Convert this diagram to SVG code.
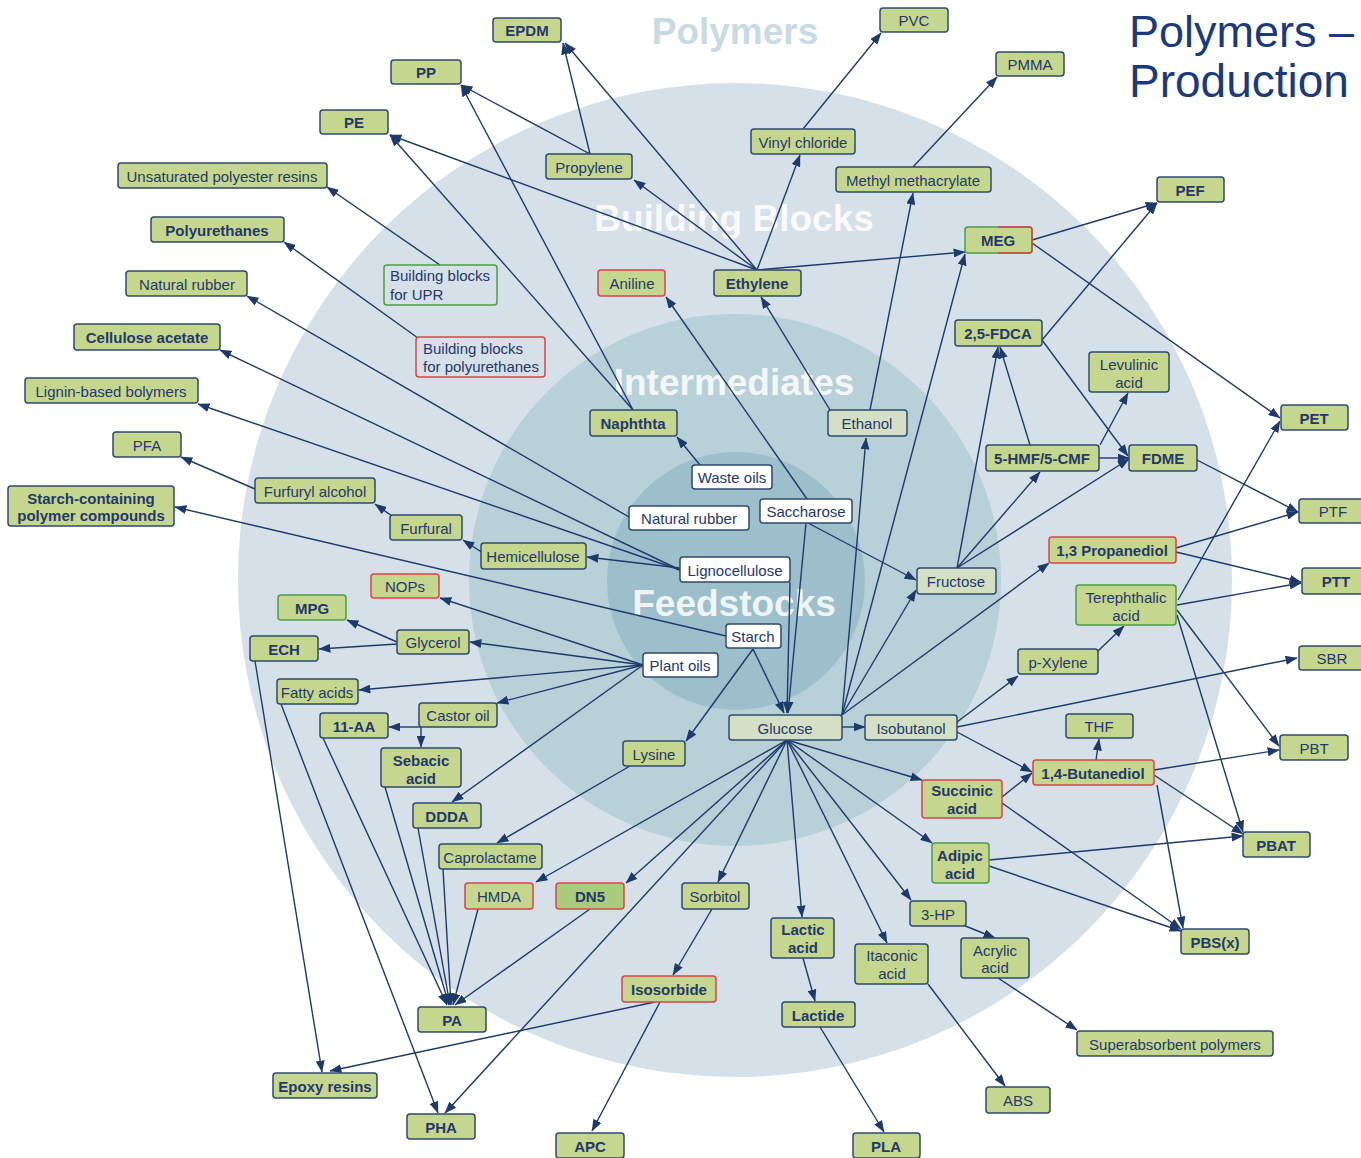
<svg xmlns="http://www.w3.org/2000/svg" width="1361" height="1158" viewBox="0 0 1361 1158">
<defs>
<marker id="ah" viewBox="0 0 10 10" refX="9.5" refY="5" markerWidth="12" markerHeight="9" markerUnits="userSpaceOnUse" orient="auto" preserveAspectRatio="none"><path d="M0,0 L10,5 L0,10 z" fill="#1e3a6b"/></marker>
<style>
.n rect{fill:#c5d78e;stroke:#2f4a6e;stroke-width:1.5}
.n text{font-family:"Liberation Sans",Arial,sans-serif;font-size:15px;fill:#25386a;text-anchor:middle;dominant-baseline:central}
.n.b text{font-weight:bold}
.n.red rect{stroke:#d9434b}
.n.grn rect{stroke:#4c9d45}
.n.w rect{fill:#ffffff}
.n.lt rect{fill:#d3e0c5}
.n.nf rect{fill:none}
.n.nf text{text-anchor:start}
.n.dk rect{fill:#a9cd7c}
.reg{font-family:"Liberation Sans",Arial,sans-serif;font-size:37px;font-weight:bold;text-anchor:middle}
#connectors line,#connectors path{stroke:#1e3a6b;stroke-width:1.4;fill:none;marker-end:url(#ah)}
</style>
</defs>
<rect width="1361" height="1158" fill="#ffffff"/>
<g id="background">
<circle cx="735" cy="580" r="497" fill="#d6e0e8"/>
<circle cx="735" cy="580" r="266" fill="#b8d0d8"/>
<circle cx="736" cy="581" r="129" fill="#9dbfcc"/>
<text class="reg" x="735" y="44" fill="#c9dae3">Polymers</text>
<text class="reg" x="734" y="231" fill="#ffffff" fill-opacity="0.85">Building Blocks</text>
<text class="reg" x="734" y="395" fill="#ffffff" fill-opacity="0.85">Intermediates</text>
<text class="reg" x="734" y="616" fill="#ffffff" fill-opacity="0.85">Feedstocks</text>
</g>
<g id="title" font-family="'Liberation Sans',Arial,sans-serif" font-size="45" fill="#1b3a7c">
<text x="1129" y="47">Polymers –</text>
<text x="1129" y="97" font-size="46">Production</text>
</g>
<g id="connectors">
<line x1="590" y1="154" x2="563" y2="43"/>
<line x1="590" y1="154" x2="461" y2="85"/>
<line x1="757" y1="270" x2="565" y2="43"/>
<line x1="757" y1="270" x2="390" y2="135"/>
<line x1="757" y1="270" x2="634" y2="180"/>
<line x1="757" y1="270" x2="800" y2="155"/>
<line x1="757" y1="270" x2="965" y2="252"/>
<line x1="803" y1="129" x2="881" y2="33"/>
<line x1="913" y1="167" x2="997" y2="77"/>
<line x1="870" y1="410" x2="913" y2="193"/>
<line x1="830" y1="410" x2="761" y2="297"/>
<line x1="633" y1="410" x2="461" y2="85"/>
<line x1="633" y1="410" x2="390" y2="135"/>
<line x1="700" y1="465" x2="677" y2="437"/>
<line x1="807" y1="499" x2="666" y2="297"/>
<line x1="440" y1="265" x2="327" y2="187"/>
<line x1="418" y1="338" x2="284" y2="242"/>
<line x1="629" y1="517" x2="247" y2="296"/>
<line x1="680" y1="570" x2="220" y2="350"/>
<line x1="680" y1="570" x2="198" y2="404"/>
<line x1="680" y1="568" x2="587" y2="557"/>
<line x1="483" y1="553" x2="463" y2="540"/>
<line x1="392" y1="516" x2="375" y2="504"/>
<line x1="255" y1="489" x2="181" y2="457"/>
<line x1="726" y1="636" x2="175" y2="507"/>
<line x1="753" y1="649" x2="784" y2="713"/>
<line x1="753" y1="649" x2="686" y2="741"/>
<line x1="806" y1="523" x2="788" y2="713"/>
<line x1="790" y1="582" x2="787" y2="713"/>
<line x1="808" y1="523" x2="916" y2="580"/>
<line x1="842" y1="715" x2="916" y2="590"/>
<line x1="842" y1="715" x2="866" y2="438"/>
<line x1="842" y1="715" x2="965" y2="254"/>
<line x1="842" y1="715" x2="1049" y2="563"/>
<line x1="842" y1="727" x2="865" y2="727"/>
<line x1="957" y1="568" x2="998" y2="347"/>
<line x1="957" y1="568" x2="1040" y2="472"/>
<line x1="957" y1="568" x2="1129" y2="459"/>
<line x1="1030" y1="445" x2="1000" y2="347"/>
<line x1="1100" y1="445" x2="1128" y2="393"/>
<line x1="1099" y1="458" x2="1129" y2="458"/>
<line x1="1042" y1="340" x2="1157" y2="203"/>
<line x1="1042" y1="340" x2="1128" y2="456"/>
<line x1="1032" y1="240" x2="1157" y2="203"/>
<line x1="1032" y1="243" x2="1280" y2="418"/>
<line x1="1197" y1="460" x2="1298" y2="512"/>
<line x1="1176" y1="548" x2="1298" y2="512"/>
<line x1="1176" y1="552" x2="1301" y2="582"/>
<line x1="1178" y1="600" x2="1280" y2="421"/>
<line x1="1177" y1="605" x2="1301" y2="583"/>
<line x1="1177" y1="610" x2="1279" y2="746"/>
<line x1="1177" y1="615" x2="1243" y2="832"/>
<line x1="1098" y1="651" x2="1124" y2="626"/>
<line x1="957" y1="722" x2="1018" y2="676"/>
<line x1="957" y1="727" x2="1297" y2="658"/>
<line x1="957" y1="732" x2="1032" y2="772"/>
<line x1="1096" y1="760" x2="1099" y2="739"/>
<line x1="1154" y1="770" x2="1279" y2="750"/>
<line x1="1154" y1="775" x2="1243" y2="834"/>
<line x1="1157" y1="785" x2="1183" y2="928"/>
<line x1="1002" y1="797" x2="1032" y2="773"/>
<line x1="1002" y1="803" x2="1181" y2="929"/>
<line x1="989" y1="860" x2="1243" y2="836"/>
<line x1="989" y1="866" x2="1181" y2="931"/>
<line x1="787" y1="740" x2="922" y2="780"/>
<line x1="787" y1="740" x2="932" y2="843"/>
<line x1="787" y1="740" x2="911" y2="900"/>
<line x1="787" y1="740" x2="887" y2="943"/>
<line x1="787" y1="740" x2="802" y2="917"/>
<line x1="787" y1="740" x2="718" y2="882"/>
<line x1="787" y1="740" x2="626" y2="883"/>
<line x1="787" y1="740" x2="536" y2="882"/>
<line x1="787" y1="740" x2="445" y2="1113"/>
<line x1="963" y1="925" x2="995" y2="938"/>
<line x1="998" y1="978" x2="1077" y2="1030"/>
<line x1="928" y1="984" x2="1005" y2="1086"/>
<line x1="803" y1="958" x2="815" y2="1001"/>
<line x1="820" y1="1027" x2="884" y2="1132"/>
<line x1="712" y1="909" x2="673" y2="975"/>
<line x1="660" y1="1002" x2="592" y2="1131"/>
<line x1="655" y1="1002" x2="330" y2="1071"/>
<line x1="255" y1="661" x2="322" y2="1072"/>
<line x1="281" y1="704" x2="438" y2="1113"/>
<line x1="323" y1="738" x2="447" y2="1005"/>
<line x1="385" y1="787" x2="449" y2="1005"/>
<line x1="418" y1="828" x2="450" y2="1005"/>
<line x1="443" y1="869" x2="451" y2="1005"/>
<line x1="478" y1="909" x2="453" y2="1005"/>
<line x1="590" y1="909" x2="455" y2="1005"/>
<line x1="643" y1="665" x2="440" y2="598"/>
<line x1="643" y1="665" x2="470" y2="642"/>
<line x1="643" y1="665" x2="359" y2="690"/>
<line x1="643" y1="665" x2="497" y2="703"/>
<line x1="643" y1="665" x2="452" y2="802"/>
<line x1="397" y1="642" x2="347" y2="620"/>
<line x1="397" y1="644" x2="319" y2="649"/>
<path d="M421,727 H389"/>
<path d="M421,727 V747"/>
<line x1="630" y1="766" x2="497" y2="843"/>
</g>
<g id="nodes">
<g id="n-epdm" class="n b"><rect x="493" y="18" width="68" height="24" rx="3"/><text x="527" y="30">EPDM</text></g>
<g id="n-pp" class="n b"><rect x="391" y="60" width="70" height="24" rx="3"/><text x="426" y="72">PP</text></g>
<g id="n-pe" class="n b"><rect x="320" y="110" width="68" height="24" rx="3"/><text x="354" y="122">PE</text></g>
<g id="n-pvc" class="n"><rect x="880" y="8" width="68" height="24" rx="3"/><text x="914" y="20">PVC</text></g>
<g id="n-pmma" class="n"><rect x="996" y="52" width="68" height="24" rx="3"/><text x="1030" y="64">PMMA</text></g>
<g id="n-upr" class="n"><rect x="118" y="163" width="209" height="25" rx="3"/><text x="222" y="176">Unsaturated polyester resins</text></g>
<g id="n-pu" class="n b"><rect x="151" y="217" width="133" height="25" rx="3"/><text x="217" y="230">Polyurethanes</text></g>
<g id="n-nr-poly" class="n"><rect x="126" y="271" width="121" height="25" rx="3"/><text x="187" y="284">Natural rubber</text></g>
<g id="n-ca" class="n b"><rect x="74" y="324" width="146" height="26" rx="3"/><text x="147" y="337">Cellulose acetate</text></g>
<g id="n-lignin" class="n"><rect x="25" y="378" width="173" height="25" rx="3"/><text x="111" y="391">Lignin-based bolymers</text></g>
<g id="n-pfa" class="n"><rect x="113" y="432" width="68" height="25" rx="3"/><text x="147" y="445">PFA</text></g>
<g id="n-furfurylalc" class="n"><rect x="255" y="478" width="120" height="25" rx="3"/><text x="315" y="491">Furfuryl alcohol</text></g>
<g id="n-furfural" class="n"><rect x="390" y="515" width="72" height="25" rx="3"/><text x="426" y="528">Furfural</text></g>
<g id="n-starchpoly" class="n b"><rect x="8" y="486" width="166" height="40" rx="3"/><text x="91" y="498">Starch-containing</text><text x="91" y="515">polymer compounds</text></g>
<g id="n-bb-upr" class="n grn nf"><rect x="384" y="265" width="113" height="40" rx="3"/><text x="390" y="275">Building blocks</text><text x="390" y="294">for UPR</text></g>
<g id="n-bb-pu" class="n red nf"><rect x="416" y="337" width="129" height="40" rx="3"/><text x="423" y="348">Building blocks</text><text x="423" y="366">for polyurethanes</text></g>
<g id="n-propylene" class="n"><rect x="546" y="154" width="86" height="25" rx="3"/><text x="589" y="167">Propylene</text></g>
<g id="n-vc" class="n"><rect x="751" y="129" width="104" height="25" rx="3"/><text x="803" y="142">Vinyl chloride</text></g>
<g id="n-mma" class="n"><rect x="836" y="167" width="155" height="25" rx="3"/><text x="913" y="180">Methyl methacrylate</text></g>
<g id="n-meg" class="n b grn"><rect x="965" y="227" width="67" height="26" rx="3"/><path d="M998,227 H1029 Q1032,227 1032,230 V250 Q1032,253 1029,253 H998" fill="none" stroke="#d9434b" stroke-width="1.5"/><text x="998" y="240">MEG</text></g>
<g id="n-pef" class="n b"><rect x="1157" y="177" width="67" height="25" rx="3"/><text x="1190" y="190">PEF</text></g>
<g id="n-aniline" class="n red"><rect x="598" y="270" width="67" height="26" rx="3"/><text x="632" y="283">Aniline</text></g>
<g id="n-ethylene" class="n b"><rect x="714" y="270" width="87" height="26" rx="3"/><text x="757" y="283">Ethylene</text></g>
<g id="n-fdca" class="n b"><rect x="955" y="320" width="87" height="26" rx="3"/><text x="998" y="333">2,5-FDCA</text></g>
<g id="n-levulinic" class="n"><rect x="1089" y="352" width="80" height="40" rx="3"/><text x="1129" y="364">Levulinic</text><text x="1129" y="382">acid</text></g>
<g id="n-pet" class="n b"><rect x="1281" y="405" width="67" height="25" rx="3"/><text x="1314" y="418">PET</text></g>
<g id="n-naphtha" class="n b"><rect x="590" y="410" width="87" height="26" rx="3"/><text x="633" y="423">Naphthta</text></g>
<g id="n-ethanol" class="n lt"><rect x="828" y="410" width="79" height="26" rx="3"/><text x="867" y="423">Ethanol</text></g>
<g id="n-hmf" class="n b"><rect x="986" y="445" width="113" height="26" rx="3"/><text x="1042" y="458">5-HMF/5-CMF</text></g>
<g id="n-fdme" class="n b"><rect x="1129" y="445" width="68" height="26" rx="3"/><text x="1163" y="458">FDME</text></g>
<g id="n-wasteoils" class="n w"><rect x="692" y="465" width="80" height="24" rx="3"/><text x="732" y="477">Waste oils</text></g>
<g id="n-saccharose" class="n w"><rect x="760" y="499" width="92" height="24" rx="3"/><text x="806" y="511">Saccharose</text></g>
<g id="n-nr-feed" class="n w"><rect x="629" y="506" width="120" height="24" rx="3"/><text x="689" y="518">Natural rubber</text></g>
<g id="n-ptf" class="n"><rect x="1299" y="499" width="68" height="24" rx="3"/><text x="1333" y="511">PTF</text></g>
<g id="n-pdo" class="n b red"><rect x="1049" y="537" width="127" height="26" rx="3"/><text x="1112" y="550">1,3 Propanediol</text></g>
<g id="n-hemi" class="n"><rect x="481" y="543" width="105" height="26" rx="3"/><text x="533" y="556">Hemicellulose</text></g>
<g id="n-ligno" class="n w"><rect x="680" y="557" width="110" height="25" rx="3"/><text x="735" y="570">Lignocellulose</text></g>
<g id="n-fructose" class="n lt"><rect x="917" y="568" width="79" height="26" rx="3"/><text x="956" y="581">Fructose</text></g>
<g id="n-ptt" class="n b"><rect x="1302" y="568" width="66" height="26" rx="3"/><text x="1336" y="581">PTT</text></g>
<g id="n-nops" class="n red"><rect x="371" y="574" width="68" height="24" rx="3"/><text x="405" y="586">NOPs</text></g>
<g id="n-tpa" class="n grn"><rect x="1076" y="585" width="100" height="40" rx="3"/><text x="1126" y="597">Terephthalic</text><text x="1126" y="615">acid</text></g>
<g id="n-mpg" class="n b grn"><rect x="278" y="595" width="68" height="25" rx="3"/><text x="312" y="608">MPG</text></g>
<g id="n-starch" class="n w"><rect x="726" y="624" width="55" height="24" rx="3"/><text x="753" y="636">Starch</text></g>
<g id="n-glycerol" class="n"><rect x="397" y="630" width="72" height="24" rx="3"/><text x="433" y="642">Glycerol</text></g>
<g id="n-ech" class="n b"><rect x="250" y="636" width="68" height="25" rx="3"/><text x="284" y="649">ECH</text></g>
<g id="n-sbr" class="n"><rect x="1299" y="646" width="68" height="24" rx="3"/><text x="1332" y="658">SBR</text></g>
<g id="n-pxylene" class="n"><rect x="1018" y="649" width="80" height="25" rx="3"/><text x="1058" y="662">p-Xylene</text></g>
<g id="n-plantoils" class="n w"><rect x="643" y="653" width="75" height="24" rx="3"/><text x="680" y="665">Plant oils</text></g>
<g id="n-fatty" class="n"><rect x="277" y="679" width="81" height="25" rx="3"/><text x="317" y="692">Fatty acids</text></g>
<g id="n-castor" class="n"><rect x="419" y="703" width="78" height="24" rx="3"/><text x="458" y="715">Castor oil</text></g>
<g id="n-11aa" class="n b"><rect x="320" y="713" width="68" height="25" rx="3"/><text x="354" y="726">11-AA</text></g>
<g id="n-glucose" class="n lt"><rect x="729" y="715" width="113" height="25" rx="3"/><text x="785" y="728">Glucose</text></g>
<g id="n-isobutanol" class="n lt"><rect x="865" y="715" width="92" height="25" rx="3"/><text x="911" y="728">Isobutanol</text></g>
<g id="n-thf" class="n"><rect x="1066" y="714" width="67" height="24" rx="3"/><text x="1099" y="726">THF</text></g>
<g id="n-pbt" class="n"><rect x="1280" y="735" width="68" height="25" rx="3"/><text x="1314" y="748">PBT</text></g>
<g id="n-lysine" class="n"><rect x="623" y="741" width="62" height="25" rx="3"/><text x="654" y="754">Lysine</text></g>
<g id="n-sebacic" class="n b"><rect x="381" y="748" width="80" height="39" rx="3"/><text x="421" y="760">Sebacic</text><text x="421" y="778">acid</text></g>
<g id="n-bdo" class="n b red"><rect x="1033" y="760" width="121" height="25" rx="3"/><text x="1093" y="773">1,4-Butanediol</text></g>
<g id="n-succinic" class="n b red"><rect x="922" y="780" width="80" height="38" rx="3"/><text x="962" y="790">Succinic</text><text x="962" y="808">acid</text></g>
<g id="n-ddda" class="n b"><rect x="413" y="803" width="68" height="25" rx="3"/><text x="447" y="816">DDDA</text></g>
<g id="n-pbat" class="n b"><rect x="1243" y="832" width="67" height="25" rx="3"/><text x="1276" y="845">PBAT</text></g>
<g id="n-adipic" class="n b grn"><rect x="932" y="843" width="57" height="40" rx="3"/><text x="960" y="855">Adipic</text><text x="960" y="873">acid</text></g>
<g id="n-caprolactame" class="n"><rect x="439" y="844" width="103" height="25" rx="3"/><text x="490" y="857">Caprolactame</text></g>
<g id="n-hmda" class="n red"><rect x="465" y="883" width="68" height="26" rx="3"/><text x="499" y="896">HMDA</text></g>
<g id="n-dn5" class="n b red dk"><rect x="556" y="883" width="68" height="26" rx="3"/><text x="590" y="896">DN5</text></g>
<g id="n-sorbitol" class="n"><rect x="682" y="883" width="67" height="26" rx="3"/><text x="715" y="896">Sorbitol</text></g>
<g id="n-3hp" class="n"><rect x="910" y="901" width="56" height="25" rx="3"/><text x="938" y="914">3-HP</text></g>
<g id="n-lactic" class="n b"><rect x="771" y="918" width="63" height="40" rx="3"/><text x="803" y="929">Lactic</text><text x="803" y="947">acid</text></g>
<g id="n-pbs" class="n b"><rect x="1181" y="929" width="68" height="25" rx="3"/><text x="1215" y="942">PBS(x)</text></g>
<g id="n-itaconic" class="n"><rect x="855" y="944" width="73" height="40" rx="3"/><text x="892" y="955">Itaconic</text><text x="892" y="973">acid</text></g>
<g id="n-acrylic" class="n"><rect x="961" y="938" width="68" height="40" rx="3"/><text x="995" y="950">Acrylic</text><text x="995" y="967">acid</text></g>
<g id="n-isosorbide" class="n b red"><rect x="622" y="976" width="94" height="26" rx="3"/><text x="669" y="989">Isosorbide</text></g>
<g id="n-pa" class="n b"><rect x="418" y="1007" width="68" height="25" rx="3"/><text x="452" y="1020">PA</text></g>
<g id="n-lactide" class="n b"><rect x="782" y="1002" width="73" height="25" rx="3"/><text x="818" y="1015">Lactide</text></g>
<g id="n-sap" class="n"><rect x="1077" y="1031" width="196" height="25" rx="3"/><text x="1175" y="1044">Superabsorbent polymers</text></g>
<g id="n-epoxy" class="n b"><rect x="273" y="1073" width="104" height="25" rx="3"/><text x="325" y="1086">Epoxy resins</text></g>
<g id="n-abs" class="n"><rect x="986" y="1087" width="64" height="26" rx="3"/><text x="1018" y="1100">ABS</text></g>
<g id="n-pha" class="n b"><rect x="407" y="1114" width="68" height="25" rx="3"/><text x="441" y="1127">PHA</text></g>
<g id="n-apc" class="n b"><rect x="556" y="1133" width="68" height="25" rx="3"/><text x="590" y="1146">APC</text></g>
<g id="n-pla" class="n b"><rect x="853" y="1133" width="67" height="25" rx="3"/><text x="886" y="1146">PLA</text></g>
</g>
</svg>
